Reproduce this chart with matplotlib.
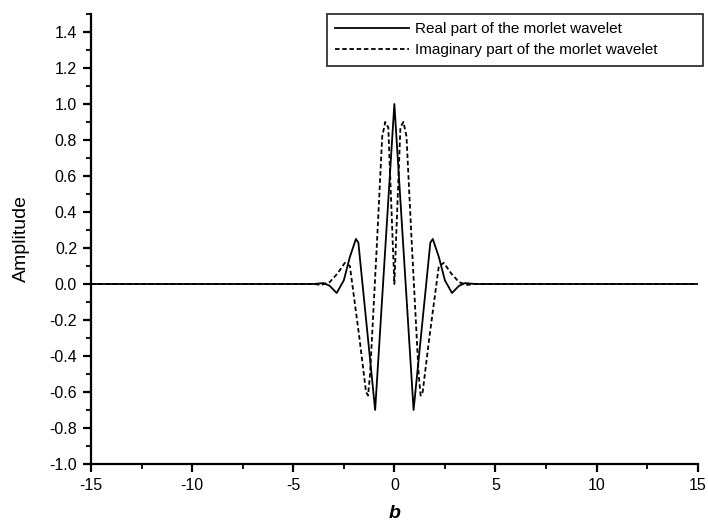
import matplotlib
matplotlib.use("Agg")
import matplotlib.pyplot as plt
from matplotlib.ticker import MultipleLocator

plt.rcParams["font.family"] = ["Liberation Sans", "DejaVu Sans"]
plt.rcParams["axes.unicode_minus"] = False

# values
b_real = [-15, -4.0, -3.5, -3.2, -2.85, -2.5, -2.2, -1.9, -1.78, -0.95, 0,
          0.95, 1.78, 1.9, 2.2, 2.5, 2.85, 3.2, 3.5, 4.0, 15]
v_real = [0.0, 0.0, 0.005, -0.01, -0.05, 0.02, 0.15, 0.25, 0.23, -0.70, 1.0,
          -0.70, 0.23, 0.25, 0.15, 0.02, -0.05, -0.01, 0.005, 0.0, 0.0]

b_imag = [-15, -4.0, -3.6, -3.2, -2.8, -2.45, -2.2, -1.75, -1.4, -1.3, -1.2,
          -0.85, -0.6, -0.45, -0.3, 0,
          0.3, 0.45, 0.6, 0.85, 1.2, 1.3, 1.4, 1.75, 2.2, 2.45, 2.8, 3.2, 3.6, 4.0, 15]
v_imag = [0.0, 0.0, -0.005, 0.01, 0.06, 0.117, 0.1, -0.28, -0.60, -0.62, -0.5,
          0.25, 0.82, 0.9, 0.87, 0.0,
          0.87, 0.9, 0.82, 0.25, -0.5, -0.62, -0.60, -0.28, 0.1, 0.117, 0.06, 0.01, -0.005, 0.0, 0.0]

fig = plt.figure(figsize=(7.08, 5.26), dpi=100)
ax = fig.add_axes([0.1285, 0.1179, 0.857, 0.8555])

ax.plot(b_real, v_real, color="black", lw=1.3, label="Real part of the morlet wavelet")
ax.plot(b_imag, v_imag, color="black", lw=1.3, ls=(0, (2.5, 1.5)),
        label="Imaginary part of the morlet wavelet")

ax.set_xlim(-15, 15)
ax.set_ylim(-1.0, 1.5)
ax.xaxis.set_major_locator(MultipleLocator(5))
ax.xaxis.set_minor_locator(MultipleLocator(2.5))
ax.yaxis.set_minor_locator(MultipleLocator(0.1))
ax.set_yticks([-1.0, -0.8, -0.6, -0.4, -0.2, 0.0, 0.2, 0.4, 0.6, 0.8, 1.0, 1.2, 1.4])
ax.yaxis.set_major_formatter(plt.FuncFormatter(lambda v, p: f"{v:.1f}"))

for s in ["top", "right"]:
    ax.spines[s].set_visible(False)
for s in ["left", "bottom"]:
    ax.spines[s].set_linewidth(1.6)

ax.tick_params(which="major", direction="out", length=6, width=1.6, labelsize=11.5, pad=4)
ax.tick_params(which="minor", direction="out", length=3.5, width=1.3)

ax.set_xlabel("b", fontsize=14, fontweight="bold", fontstyle="italic", labelpad=9)
ax.set_ylabel("Amplitude", fontsize=14, labelpad=14)

leg = ax.legend(loc="upper left", bbox_to_anchor=(0.389, 0.884, 0.619, 0.116),
                mode="expand", frameon=True, fancybox=False, edgecolor="black",
                fontsize=11, handlelength=4.8, borderpad=0.55,
                labelspacing=0.45, borderaxespad=0.0, handletextpad=0.4)
leg.get_frame().set_linewidth(1.3)

fig.savefig("out.png", dpi=100)
